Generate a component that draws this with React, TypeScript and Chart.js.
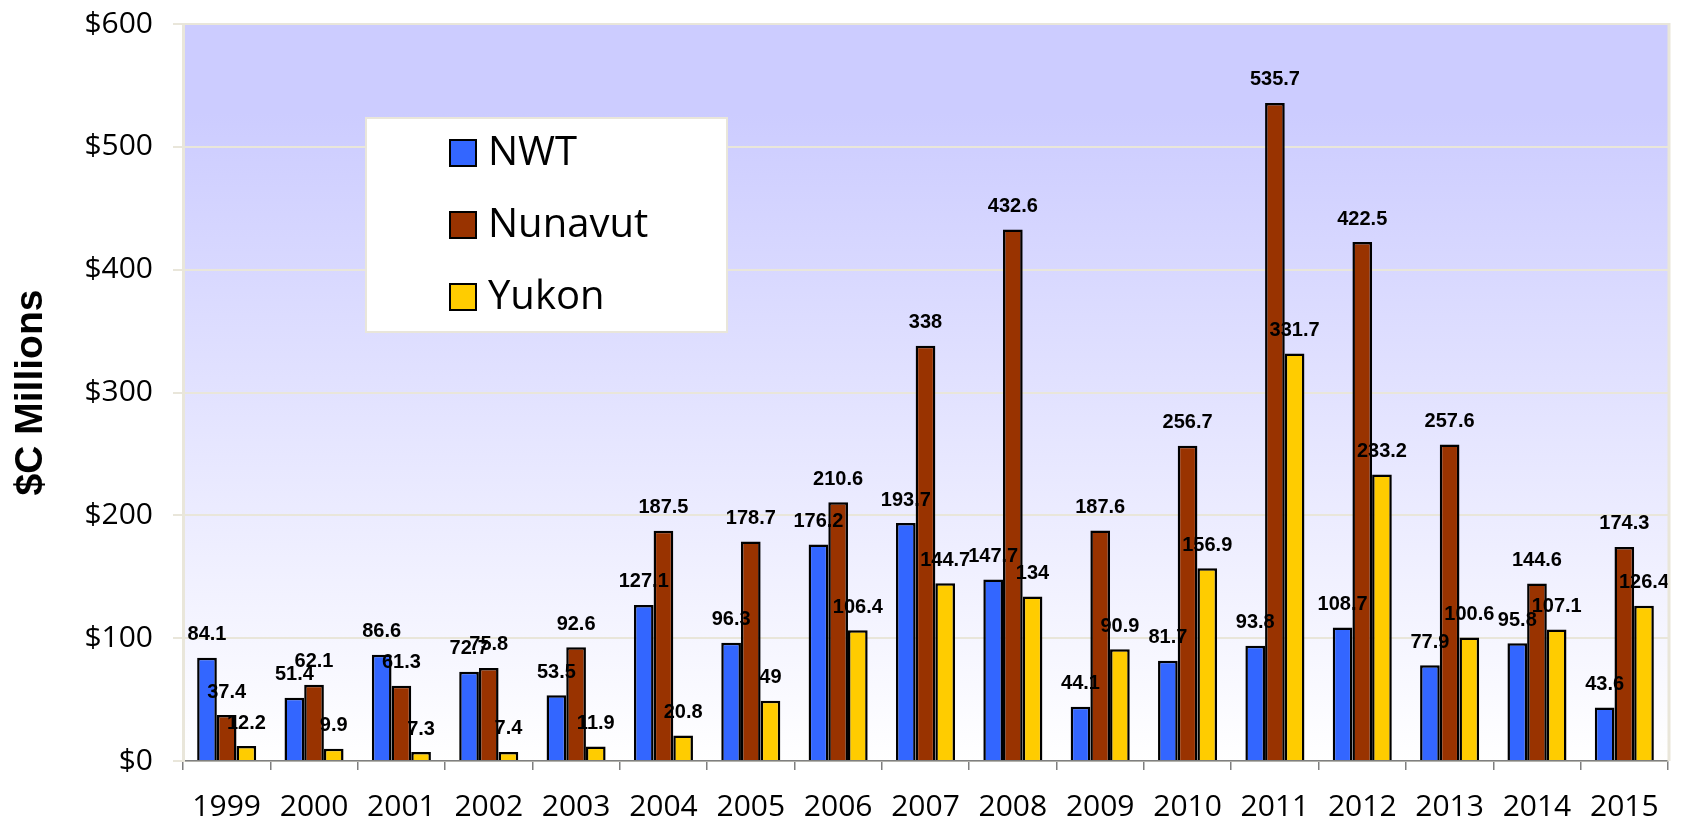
import { useEffect, useRef } from 'react';
import { Chart, registerables } from 'chart.js';

Chart.register(...registerables);

const years = ['1999', '2000', '2001', '2002', '2003', '2004', '2005', '2006', '2007', '2008', '2009', '2010', '2011', '2012', '2013', '2014', '2015'];
const nwt = [84.1, 51.4, 86.6, 72.7, 53.5, 127.1, 96.3, 176.2, 193.7, 147.7, 44.1, 81.7, 93.8, 108.7, 77.9, 95.8, 43.6];
const nunavut = [37.4, 62.1, 61.3, 75.8, 92.6, 187.5, 178.7, 210.6, 338, 432.6, 187.6, 256.7, 535.7, 422.5, 257.6, 144.6, 174.3];
const yukon = [12.2, 9.9, 7.3, 7.4, 11.9, 20.8, 49, 106.4, 144.7, 134, 90.9, 156.9, 331.7, 233.2, 100.6, 107.1, 126.4];
const seriesNames = ['NWT', 'Nunavut', 'Yukon'];
const seriesColors = ['#3366FF', '#993300', '#FFCC00'];
const yAxisTitle = '$C Millions';

const GRID = '#E9E6DA';

const bgPlugin = {
  id: 'bgPlugin',
  beforeDraw(chart: any) {
    const { ctx, chartArea } = chart;
    if (!chartArea) return;
    const g = ctx.createLinearGradient(0, chartArea.top, 0, chartArea.bottom);
    g.addColorStop(0, '#CCCCFF');
    g.addColorStop(0.12, '#CCCCFF');
    g.addColorStop(1, '#FFFFFF');
    ctx.save();
    ctx.fillStyle = g;
    ctx.fillRect(chartArea.left, chartArea.top, chartArea.right - chartArea.left, chartArea.bottom - chartArea.top);
    ctx.restore();
  },
  afterDraw(chart: any) {
    const { ctx, chartArea } = chart;
    ctx.save();
    ctx.strokeStyle = GRID;
    ctx.lineWidth = 3;
    ctx.beginPath();
    ctx.moveTo(chartArea.right + 1, chartArea.top - 1);
    ctx.lineTo(chartArea.right + 1, chartArea.bottom);
    ctx.stroke();
    ctx.restore();
  },
};

const valueLabels = {
  id: 'valueLabels',
  afterDatasetsDraw(chart: any) {
    const { ctx } = chart;
    ctx.save();
    ctx.font = 'bold 20px "Liberation Sans", Arial, sans-serif';
    ctx.fillStyle = '#000';
    ctx.textAlign = 'center';
    ctx.textBaseline = 'middle';
    chart.data.datasets.forEach((ds: any, i: number) => {
      const meta = chart.getDatasetMeta(i);
      meta.data.forEach((bar: any, j: number) => {
        ctx.fillText(String(ds.data[j]), bar.x, bar.y - 23);
      });
    });
    ctx.restore();
  },
};

const boxLegend = {
  id: 'boxLegend',
  afterDraw(chart: any) {
    const { ctx, chartArea } = chart;
    const left = chartArea.left + 183;
    const top = chartArea.top + 94;
    const w = 361;
    const h = 214;
    ctx.save();
    ctx.fillStyle = '#FFFFFF';
    ctx.fillRect(left, top, w, h);
    ctx.strokeStyle = GRID;
    ctx.lineWidth = 2;
    ctx.strokeRect(left, top, w, h);
    const rows = [35, 107, 179];
    ctx.font = '40px "Open Sans", "Liberation Sans", sans-serif';
    ctx.textBaseline = 'middle';
    ctx.textAlign = 'left';
    chart.data.datasets.forEach((ds: any, i: number) => {
      const cy = top + rows[i];
      ctx.fillStyle = ds.backgroundColor;
      ctx.fillRect(left + 84, cy - 13, 26, 26);
      ctx.strokeStyle = '#000';
      ctx.lineWidth = 2;
      ctx.strokeRect(left + 84, cy - 13, 26, 26);
      ctx.fillStyle = '#000';
      ctx.fillText(ds.label, left + 122, cy + 1);
    });
    ctx.restore();
  },
};

export default function App() {
  const ref = useRef<HTMLCanvasElement>(null);
  useEffect(() => {
    document.body.style.margin = '0';
    const datasets = [nwt, nunavut, yukon].map((d, i) => ({
      label: seriesNames[i],
      data: d,
      backgroundColor: seriesColors[i],
      borderColor: '#000000',
      borderWidth: 2.5,
      categoryPercentage: 0.676,
      barPercentage: 1,
    }));
    const chart = new Chart(ref.current as HTMLCanvasElement, {
      type: 'bar',
      data: { labels: years, datasets },
      options: {
        responsive: false,
        animation: false,
        devicePixelRatio: 1,
        layout: { padding: { top: 24, right: 18, left: 0, bottom: 0 } },
        plugins: {
          legend: { display: false },
          tooltip: { enabled: false },
        },
        scales: {
          x: {
            offset: true,
            grid: {
              display: true,
              drawOnChartArea: false,
              drawTicks: true,
              tickLength: 9,
              color: '#7F7F7F',
              lineWidth: 1.5,
              offset: true,
            },
            border: { display: true, color: '#7F7F7F', width: 1.5 },
            ticks: {
              color: '#000',
              padding: 19,
              font: { family: '"Open Sans", "Liberation Sans", sans-serif', size: 30 },
              maxRotation: 0,
              autoSkip: false,
            },
            afterFit(s: any) {
              s.height = 60;
              s.paddingLeft = 0;
              s.paddingRight = 0;
            },
          },
          y: {
            min: 0,
            max: 600,
            ticks: {
              stepSize: 100,
              color: '#000',
              padding: 20,
              font: { family: '"Open Sans", "Liberation Sans", sans-serif', size: 30 },
              callback: (v: any) => '$' + v,
            },
            grid: { color: GRID, lineWidth: 2, tickLength: 10 },
            border: { display: true, color: GRID, width: 3 },
            title: {
              display: true,
              text: yAxisTitle,
              color: '#000',
              font: { family: '"Liberation Sans", Arial, sans-serif', size: 39, weight: 'bold' },
              padding: { top: 8, bottom: 0 },
            },
            afterFit(s: any) {
              s.width = 183;
              s.paddingTop = 0;
              s.paddingBottom = 0;
            },
          },
        },
      },
      plugins: [bgPlugin, valueLabels, boxLegend],
    });
    return () => chart.destroy();
  }, []);
  return (
    <div style={{ width: 1686, height: 821 }}>
      <canvas ref={ref} width={1686} height={821} style={{ display: 'block' }} />
    </div>
  );
}
